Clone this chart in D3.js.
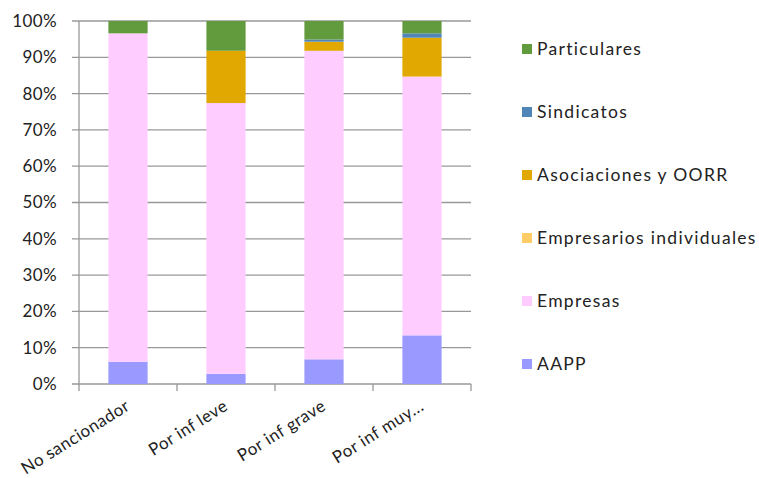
<!DOCTYPE html>
<html><head><meta charset="utf-8">
<script src="https://cdn.jsdelivr.net/npm/d3@7"></script>
<style>body{margin:0;background:#fff;}svg{display:block;}</style>
</head><body>
<svg id="c" width="759" height="478"></svg>
<script>
const categories = ["No sancionador", "Por inf leve", "Por inf grave", "Por inf muy..."];
const seriesNames = ["AAPP", "Empresas", "Empresarios individuales", "Asociaciones y OORR", "Sindicatos", "Particulares"];
const AAPP = [6.1, 2.8, 6.8, 13.4];
const Empresas = [90.5, 74.6, 85.0, 71.3];
const EmpresariosIndividuales = [0, 0, 0, 0];
const AsociacionesOORR = [0, 14.4, 2.5, 10.7];
const Sindicatos = [0, 0, 0.6, 1.2];
const Particulares = [3.4, 8.2, 5.1, 3.4];
const yTicks = [0,10,20,30,40,50,60,70,80,90,100];
const colors = ["#9999FF", "#FFCCFF", "#FFCC66", "#E0A800", "#4F86B7", "#629A3E"];

const values = [AAPP, Empresas, EmpresariosIndividuales, AsociacionesOORR, Sindicatos, Particulares];
const table = categories.map((c, i) => {
  const o = {cat: c};
  seriesNames.forEach((s, j) => o[s] = values[j][i]);
  return o;
});
const stack = d3.stack().keys(seriesNames)(table);

const svg = d3.select("#c");
const L = 79, R = 471, T = 21, B = 384;
const x = d3.scaleBand().domain(categories).range([L, R]).paddingInner(0.6).paddingOuter(0.3);
const xb = d3.scaleBand().domain(categories).range([L, R]);
const y = d3.scaleLinear().domain([0, 100]).range([B, T]);
const font = "Lato, 'Open Sans', sans-serif";

// gridlines
svg.append("g").selectAll("line").data(yTicks).join("line")
  .attr("x1", L - 7).attr("x2", R).attr("y1", d => y(d)).attr("y2", d => y(d))
  .attr("stroke", "#989898").attr("stroke-width", 1.3);

// bars
svg.append("g").selectAll("g").data(stack).join("g")
  .attr("fill", (d, i) => colors[i])
  .selectAll("rect").data(d => d).join("rect")
  .attr("x", d => x(d.data.cat)).attr("width", x.bandwidth())
  .attr("y", d => y(d[1])).attr("height", d => y(d[0]) - y(d[1]));

// axes
svg.append("line").attr("x1", L).attr("x2", L).attr("y1", T).attr("y2", B + 1)
  .attr("stroke", "#989898").attr("stroke-width", 1.3);
svg.append("g").selectAll("line").data(d3.range(categories.length + 1)).join("line")
  .attr("x1", d => L + d * xb.step()).attr("x2", d => L + d * xb.step())
  .attr("y1", B).attr("y2", B + 7).attr("stroke", "#989898").attr("stroke-width", 1.3);

// y labels
svg.append("g").selectAll("text").data(yTicks).join("text")
  .attr("x", 57).attr("y", d => y(d)).attr("dy", "0.35em")
  .attr("text-anchor", "end").attr("font-family", font).attr("font-size", 17)
  .attr("letter-spacing", 0.4).attr("fill", "#222")
  .text(d => d + "%");

// x labels
svg.append("g").selectAll("text").data(categories).join("text")
  .attr("transform", d => `translate(${xb(d) + xb.bandwidth() / 2 + 3},${B + 25}) rotate(-32)`)
  .attr("text-anchor", "end").attr("font-family", font).attr("font-size", 17)
  .attr("letter-spacing", 0.5).attr("fill", "#222")
  .text(d => d);

// legend
const legendOrder = seriesNames.map((s, i) => ({s, c: colors[i]})).reverse();
const lg = svg.append("g").selectAll("g").data(legendOrder).join("g")
  .attr("transform", (d, i) => `translate(522,${49 + i * 63})`);
lg.append("rect").attr("x", 0).attr("y", -5).attr("width", 10).attr("height", 10).attr("fill", d => d.c);
lg.append("text").attr("x", 15).attr("dy", "0.35em").attr("font-family", font).attr("font-size", 17.5)
  .attr("letter-spacing", 1.3).attr("fill", "#222").text(d => d.s);
</script>
</body></html>
